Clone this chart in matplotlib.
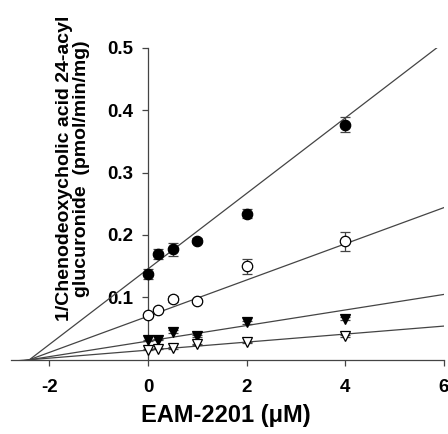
# Dixon plot: EAM-2201 vs 1/CDCA 24-acyl glucuronide formation
import matplotlib.pyplot as plt
import numpy as np

plt.rcParams["font.family"] = ["Liberation Sans", "DejaVu Sans"]
plt.rcParams["font.weight"] = "bold"

conc = [0, 0.2, 0.5, 1, 2, 4]

# four substrate concentrations, 1/v values and SD
y_fc = [0.138, 0.169, 0.177, 0.191, 0.234, 0.377]
e_fc = [0.008, 0.008, 0.010, 0.004, 0.007, 0.012]
y_oc = [0.071, 0.080, 0.097, 0.094, 0.150, 0.190]
e_oc = [0.002, 0.002, 0.005, 0.003, 0.012, 0.015]
y_ft = [0.031, 0.032, 0.045, 0.038, 0.060, 0.066]
e_ft = [0.001, 0.001, 0.002, 0.001, 0.002, 0.002]
y_ot = [0.016, 0.018, 0.019, 0.025, 0.028, 0.038]
e_ot = [0.001, 0.001, 0.001, 0.001, 0.001, 0.001]

# fitted lines (intercept, slope)
fit_int = [0.1457, 0.0699, 0.0300, 0.0155]
fit_slope = [0.0605, 0.0290, 0.01246, 0.00642]

fig = plt.figure(figsize=(4.48, 4.34), dpi=100)
ax = fig.add_axes([0.0246, 0.171, 0.9665, 0.719])

xl = np.array([-2.78, 6.0])
for b, m in zip(fit_int, fit_slope):
    ax.plot(xl, b + m * xl, color="#444444", lw=0.9, zorder=2)

sets = [(y_fc, e_fc, "o", "black"), (y_oc, e_oc, "o", "white"),
        (y_ft, e_ft, "v", "black"), (y_ot, e_ot, "v", "white")]
for yy, ee, mk, fc in sets:
    ax.errorbar(conc, yy, yerr=ee, fmt=mk, ms=7.5, mfc=fc, mec="black",
                mew=0.9, ecolor="#444444", elinewidth=0.9, capsize=3.5,
                capthick=0.9, zorder=4, clip_on=False)

ax.set_xlim(-2.78, 6)
ax.set_ylim(0, 0.5)
ax.spines["left"].set_position(("data", 0))
ax.spines["top"].set_visible(False)
ax.spines["right"].set_visible(False)
for s in ["left", "bottom"]:
    ax.spines[s].set_color("#444444")
    ax.spines[s].set_linewidth(0.9)
ax.set_xticks([-2, 0, 2, 4, 6])
ax.set_yticks([0.1, 0.2, 0.3, 0.4, 0.5])
ax.xaxis.set_major_formatter(plt.FuncFormatter(lambda v, p: f"{v:g}"))
ax.tick_params(axis="x", direction="out", length=4, width=0.9, color="#444444",
               pad=10, labelsize=13.5)
ax.tick_params(axis="y", direction="out", length=4, width=0.9, color="#444444",
               pad=7, labelsize=13.5)

fig.text(0.505, 0.042, "EAM-2201 (\u03bcM)", ha="center", va="center",
         fontsize=17, fontweight="bold")
fig.text(0.163, 0.612, "1/Chenodeoxycholic acid 24-acyl\nglucuronide  (pmol/min/mg)",
         ha="center", va="center", rotation=90, fontsize=14,
         fontweight="bold", multialignment="center", linespacing=1.05)

fig.savefig("out.png", dpi=100)
